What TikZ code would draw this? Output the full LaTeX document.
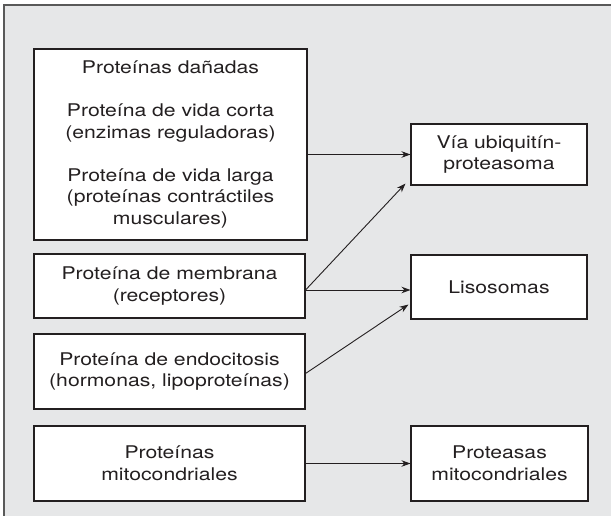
\documentclass[tikz,border=0pt]{standalone}
\usepackage{fontspec}
\setmainfont[FakeStretch=1.21]{TeX Gyre Heros}
\usetikzlibrary{arrows.meta}
\definecolor{fondo}{HTML}{E6E7E8}
\definecolor{trazo}{HTML}{231F20}
\tikzset{
  caja/.style={draw=trazo,line width=1.1pt,fill=white,align=center,inner sep=2pt,
    font=\fontsize{17.5}{21.5}\selectfont,text=trazo},
  flecha/.style={line width=0.9pt,trazo,-{Stealth[length=9pt,width=6.5pt]}}
}
\begin{document}
\begin{tikzpicture}[x=1pt,y=-1pt]
  \useasboundingbox (0,0) rectangle (611,516);
  \fill[fondo] (4,5) rectangle (611,516);
  \draw[line width=1.6pt,black!65] (4,516)--(4,5)--(611,5);
  \node[caja,minimum width=273,minimum height=191] (danadas) at (170.5,144.5)
    {Proteínas dañadas\\[21.5pt]Proteína de vida corta\\(enzimas reguladoras)\\[21.5pt]Proteína de vida larga\\(proteínas contráctiles\\musculares)};
  \node[caja,minimum width=271,minimum height=64] (membrana) at (169.5,286) {Proteína de membrana\\(receptores)};
  \node[caja,minimum width=271,minimum height=75] (endocitosis) at (169.5,371.5) {Proteína de endocitosis\\(hormonas, lipoproteínas)};
  \node[caja,minimum width=271,minimum height=75] (mito) at (169.5,463.5) {Proteínas\\mitocondriales};
  \node[caja,minimum width=176,minimum height=61] (via) at (499,154.5) {Vía ubiquitín-\\proteasoma};
  \node[caja,minimum width=176,minimum height=64] (liso) at (499,287) {Lisosomas};
  \node[caja,minimum width=177,minimum height=75] (proteasas) at (499.5,463.5) {Proteasas\\mitocondriales};
  \coordinate (bif) at ([yshift=-4pt]membrana.east);
  \draw[flecha] (danadas.east |- via.west) -- (via.west);
  \draw[flecha] (bif) -- ([xshift=-5pt,yshift=2pt]via.south west);
  \draw[flecha] (bif) -- (liso.west |- bif);
  \draw[flecha] ([yshift=-2pt]endocitosis.east) -- ([xshift=-2pt,yshift=15pt]liso.south west);
  \draw[flecha] (mito.east) -- (proteasas.west);
\end{tikzpicture}
\end{document}
